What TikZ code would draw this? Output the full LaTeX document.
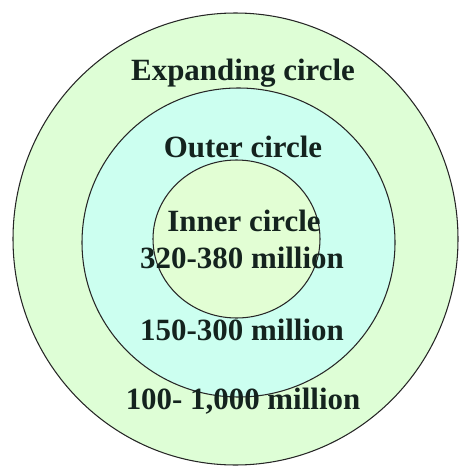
\documentclass[tikz,border=0pt]{standalone}
\usepackage{fontspec}
\setmainfont{Liberation Serif}
\usepackage{xcolor}
\usepackage{tikz}
\usetikzlibrary{positioning}
\definecolor{expandgreen}{RGB}{222, 254, 214}
\definecolor{outercyan}{RGB}{204, 255, 240}
\definecolor{innergreen}{RGB}{226, 254, 212}
\definecolor{labelink}{RGB}{20, 35, 30}
\tikzset{
    ringlabel/.style={font=\fontsize{17.6}{20}\selectfont\bfseries, text=labelink, inner sep=0pt},
    ring/.style={semithick, draw=black!85}
}

\begin{document}
\begin{tikzpicture}[x=0.02cm, y=-0.02cm]
        \useasboundingbox (0,0) rectangle (460,466);

        % Expanding circle
        \draw[ring, fill=expandgreen] (235.5, 239) ellipse [x radius=222.5, y radius=226];

        % Outer circle
        \draw[ring, fill=outercyan] (238.5, 242.5) ellipse [x radius=156.5, y radius=154.5];

        % Inner circle
        \draw[ring, fill=innergreen] (236.5, 239) ellipse [x radius=83.5, y radius=79];

        % Labels
        \node[ringlabel] (expand) at (243, 73) {Expanding circle};
        \node[ringlabel] (outer) at (243, 147) {Outer circle};
        \node[ringlabel] (inner) at (244, 221) {Inner circle};
        \node[ringlabel] (innernum) at (242, 258) {320-380 million};
        \node[ringlabel] (outernum) at (242, 330) {150-300 million};
        \node[ringlabel] (expandnum) at (243, 401) {100- 1,000 million};
    \end{tikzpicture}
\end{document}
